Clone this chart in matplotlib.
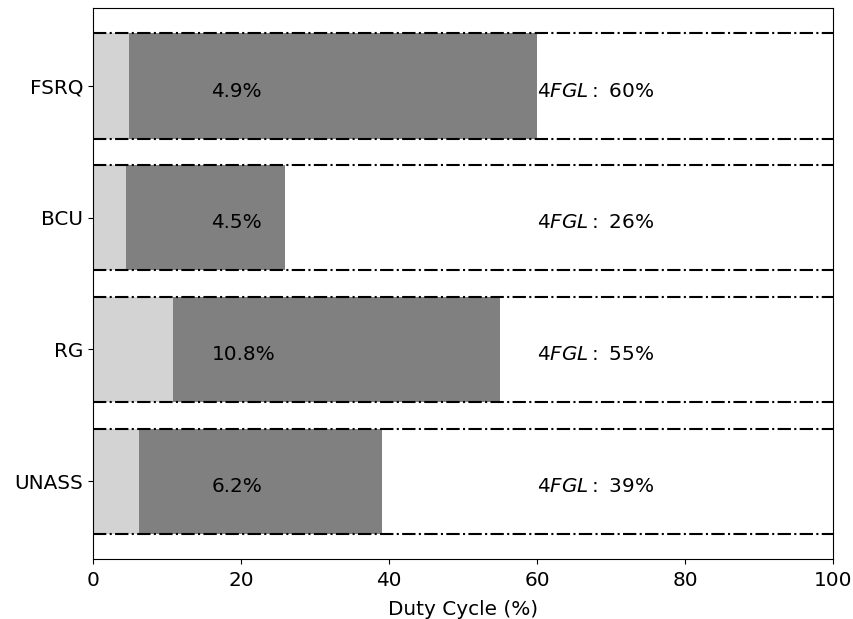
import matplotlib
matplotlib.use("Agg")
import matplotlib.pyplot as plt

categories = ["FSRQ", "BCU", "RG", "UNASS"]
duty_cycle = [4.9, 4.5, 10.8, 6.2]
fgl_values = [60, 26, 55, 39]

fs = 14.4
fig = plt.figure(figsize=(8.54, 6.19), dpi=100)
ax = fig.add_axes([0.1089, 0.0969, 0.8665, 0.8901])

pos = list(range(len(categories)))[::-1]
h = 0.8
ax.barh(pos, fgl_values, height=h, color='grey')
ax.barh(pos, duty_cycle, height=h, color='lightgrey')
for p, d, f in zip(pos, duty_cycle, fgl_values):
    ax.axhline(p + h / 2, color='black', linestyle='-.', linewidth=1.5)
    ax.axhline(p - h / 2, color='black', linestyle='-.', linewidth=1.5)
    ax.text(16, p - 0.04, f"{d}%", va='center', ha='left', fontsize=fs)
    ax.text(60, p - 0.04, r"$4FGL:$ " + f"{f}%", va='center', ha='left', fontsize=fs)

ax.set_xlim(0, 100)
ax.set_yticks(pos)
ax.set_yticklabels(categories, fontsize=fs)
ax.tick_params(axis='x', labelsize=fs, pad=5)
ax.set_xlabel("Duty Cycle (%)", fontsize=fs, labelpad=7)

fig.savefig("out.png", dpi=100)
